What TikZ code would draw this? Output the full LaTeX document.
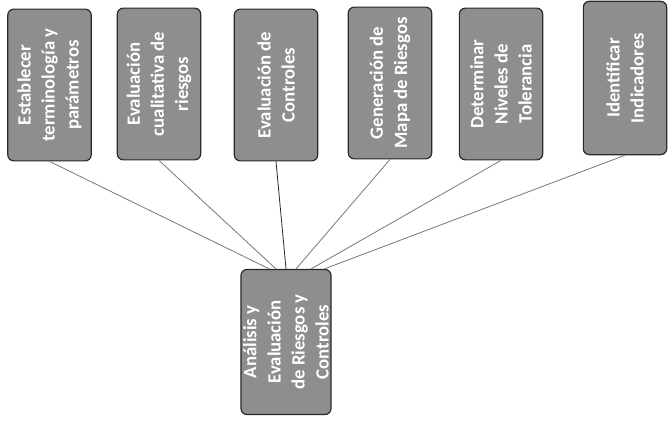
\documentclass[tikz,border=0pt]{standalone}
\usepackage{fontspec}
\setsansfont{Carlito}
\usepackage{xcolor}
\usepackage{tikz}
\usetikzlibrary{positioning,calc}
\definecolor{grisc}{HTML}{8E8E8E}
\definecolor{borde}{HTML}{2A2A2A}
\definecolor{linea}{HTML}{7A7A7A}

\begin{document}
\begin{tikzpicture}[
  x=0.03cm, y=-0.03cm,
  font=\sffamily\bfseries\fontsize{16}{20.5}\selectfont,
  caja/.style={draw=borde, line width=1pt, fill=grisc, text=white, rounded corners=5pt,
    rotate=90, align=center, minimum width=4.55cm, minimum height=2.5cm, inner sep=2pt},
  conex/.style={draw=linea, line width=0.7pt}
]
  \useasboundingbox (0,0) rectangle (669,423);

  % --- fila superior
  \node[caja] (terminologia) at (49.5,85) {Establecer\\terminología y\\parámetros};
  \node[caja] (cualitativa) at (159,84) {Evaluación\\cualitativa de\\riesgos};
  \node[caja] (controles) at (276,85) {Evaluación de\\Controles};
  \node[caja] (mapa) at (390,83) {Generación de\\Mapa de Riesgos};
  \node[caja] (tolerancia) at (501,84) {Determinar\\Niveles de\\Tolerancia};
  \node[caja, minimum width=4.6cm] (indicadores) at (625,78) {Identificar\\Indicadores};

  % --- caja inferior
  \node[caja, minimum width=4.35cm] (analisis) at (286,342)
        {Análisis y\\Evaluación\\de Riesgos y\\Controles};

  % --- conexiones
  \draw[conex] (terminologia.west) -- ([xshift=-0.5cm]analisis.east);
  \draw[conex] (cualitativa.west) -- ([xshift=-0.3cm]analisis.east);
  \draw[conex, draw=borde] (controles.west) -- (analisis.east);
  \draw[conex] (mapa.west) -- ([xshift=0.3cm]analisis.east);
  \draw[conex] (tolerancia.west) -- ([xshift=0.75cm]analisis.east);
  \draw[conex] (indicadores.west) -- ([xshift=1.15cm]analisis.east);
\end{tikzpicture}
\end{document}
